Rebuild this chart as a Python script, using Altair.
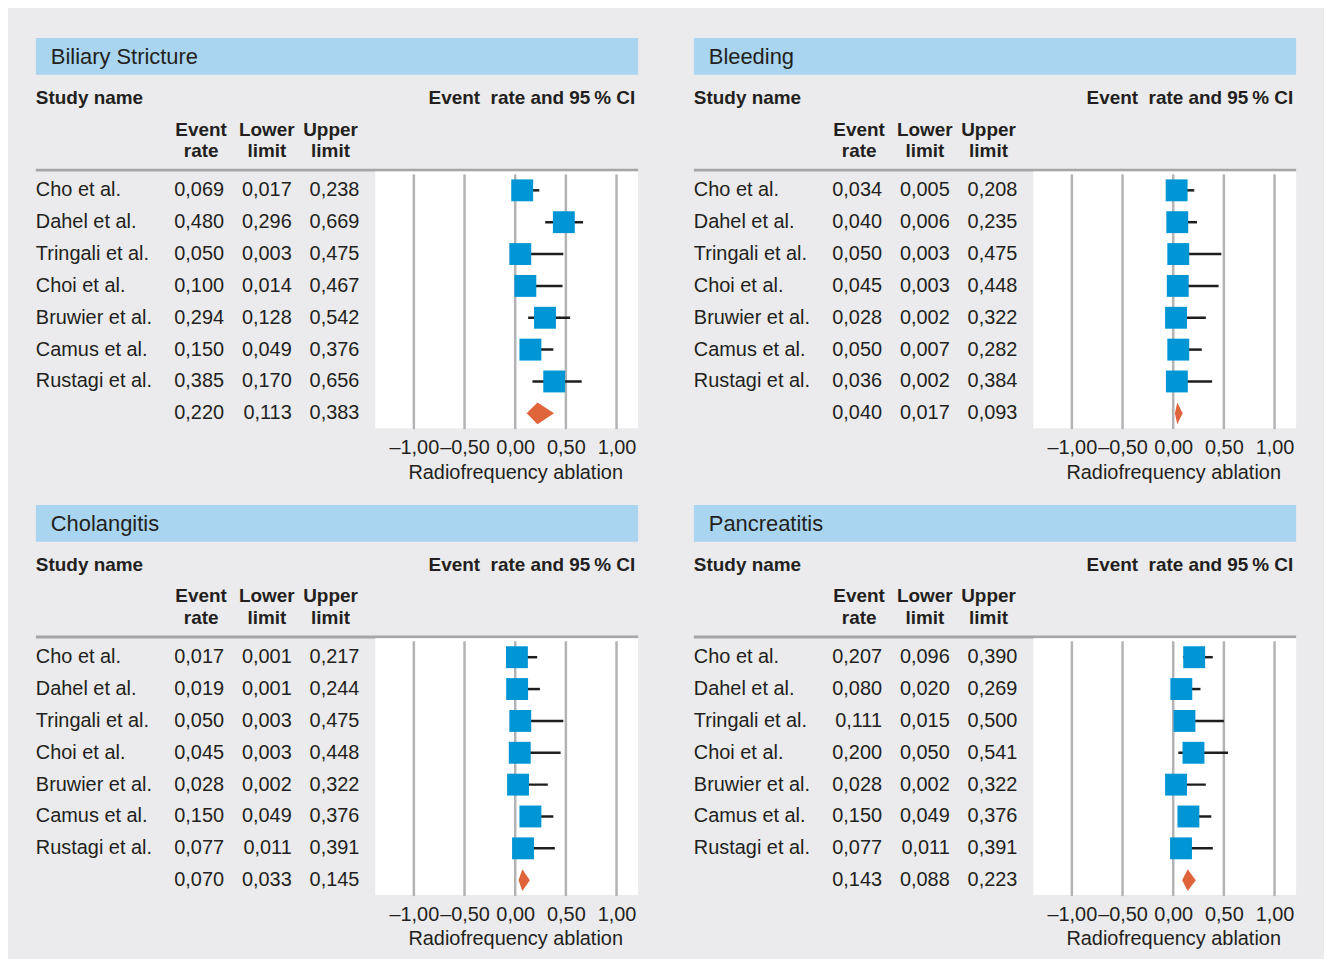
import altair as alt
import pandas as pd

FONT = "Liberation Sans, Arial, sans-serif"
TXT = "#231f20"
BLUE = "#0096d6"
ORANGE = "#e0643a"
BAR = "#a9d5f0"
GRID = "#b3b3b6"
BG = "#ebebed"

studies = ["Cho et al.", "Dahel et al.", "Tringali et al.", "Choi et al.",
           "Bruwier et al.", "Camus et al.", "Rustagi et al."]

titles = ["Biliary Stricture", "Bleeding", "Cholangitis", "Pancreatitis"]

# event rate, lower limit, upper limit per study; last entry = pooled estimate
biliary_ev = [0.069, 0.480, 0.050, 0.100, 0.294, 0.150, 0.385, 0.220]
biliary_lo = [0.017, 0.296, 0.003, 0.014, 0.128, 0.049, 0.170, 0.113]
biliary_hi = [0.238, 0.669, 0.475, 0.467, 0.542, 0.376, 0.656, 0.383]

bleeding_ev = [0.034, 0.040, 0.050, 0.045, 0.028, 0.050, 0.036, 0.040]
bleeding_lo = [0.005, 0.006, 0.003, 0.003, 0.002, 0.007, 0.002, 0.017]
bleeding_hi = [0.208, 0.235, 0.475, 0.448, 0.322, 0.282, 0.384, 0.093]

cholangitis_ev = [0.017, 0.019, 0.050, 0.045, 0.028, 0.150, 0.077, 0.070]
cholangitis_lo = [0.001, 0.001, 0.003, 0.003, 0.002, 0.049, 0.011, 0.033]
cholangitis_hi = [0.217, 0.244, 0.475, 0.448, 0.322, 0.376, 0.391, 0.145]

pancreatitis_ev = [0.207, 0.080, 0.111, 0.200, 0.028, 0.150, 0.077, 0.143]
pancreatitis_lo = [0.096, 0.020, 0.015, 0.050, 0.002, 0.049, 0.011, 0.088]
pancreatitis_hi = [0.390, 0.269, 0.500, 0.541, 0.322, 0.376, 0.391, 0.223]

tick_values = [-1.0, -0.5, 0.0, 0.5, 1.0]
x_title = "Radiofrequency ablation"

W, H = 605, 392
xscale = alt.Scale(domain=[-4.730, 1.213], nice=False, zero=False)
yscale = alt.Scale(domain=[-4.78125, 7.46875], reverse=True, nice=False, zero=False)
xaxis = alt.Axis(values=tick_values, grid=False, domain=False, ticks=False, tickSize=0,
                 labelExpr="replace(replace(replace(format(datum.value, '.2f'), '.', ','), '\u2212', '\u2013'), '-', '\u2013')",
                 labelFont=FONT, labelFontSize=20, labelColor=TXT, labelPadding=9,
                 labelBaseline="top", labelFlush=False, labelOverlap=False,
                 titleFont=FONT, titleFontSize=20, titleFontWeight="normal", titleColor=TXT,
                 titleX=481.5, titleY=50, titleAlign="center", titleBaseline="alphabetic")


def fmt(v):
    return f"{v:.3f}".replace(".", ",")


def X(field):
    return alt.X(field, type="quantitative", scale=xscale, axis=xaxis, title=x_title)


def Y(field):
    return alt.Y(field, type="quantitative", scale=yscale, axis=None)


def panel(title, ev, lo, hi):
    n = len(studies)
    rows = pd.DataFrame({
        "name": studies + [""],
        "r": list(range(n + 1)),
        "ev": ev, "lo": lo, "hi": hi,
        "ev_s": [fmt(v) for v in ev],
        "lo_s": [fmt(v) for v in lo],
        "hi_s": [fmt(v) for v in hi],
    })
    st = rows.iloc[:n]
    pooled_r = n
    h = 0.34
    dia = pd.DataFrame({
        "x": [lo[n], ev[n], hi[n]],
        "y": [pooled_r, pooled_r - h, pooled_r],
        "y2": [pooled_r, pooled_r + h, pooled_r],
    })
    one = pd.DataFrame({"a": [0]})

    bar = alt.Chart(one).mark_rect(color=BAR).encode(
        x=alt.value(0), x2=alt.value(W), y=alt.value(0), y2=alt.value(37))
    ttl = alt.Chart(pd.DataFrame({"t": [title], "r": [-4.1875]})).mark_text(
        align="left", baseline="middle", font=FONT, fontSize=22, color=TXT
    ).encode(x=alt.value(15), y=Y("r"), text="t:N")

    head_left = alt.Chart(pd.DataFrame({"t": ["Study name"], "r": [-2.906]})).mark_text(
        align="left", baseline="middle", font=FONT, fontSize=19, fontWeight="bold", color=TXT
    ).encode(x=alt.value(0), y=Y("r"), text="t:N")
    head_right = alt.Chart(pd.DataFrame({"t": ["Event\u00a0 rate and 95\u2009% CI"], "r": [-2.906]})).mark_text(
        align="right", baseline="middle", font=FONT, fontSize=19, fontWeight="bold", color=TXT
    ).encode(x=alt.value(602), y=Y("r"), text="t:N")
    col_heads = pd.DataFrame({
        "t": ["Event", "rate", "Lower", "limit", "Upper", "limit"],
        "px": [166, 166, 232, 232, 296, 296],
        "r": [-1.906, -1.219] * 3,
    })
    heads = alt.Chart(col_heads).mark_text(
        align="center", baseline="middle", font=FONT, fontSize=19, fontWeight="bold", color=TXT
    ).encode(x=alt.X("px:Q", scale=None), y=Y("r"), text="t:N")

    sep = alt.Chart(one).mark_rule(color="#a6a6a8", strokeWidth=3).encode(
        x=alt.value(0), x2=alt.value(W), y=alt.value(132.7))
    white = alt.Chart(one).mark_rect(color="white").encode(
        x=alt.value(341), x2=alt.value(W), y=alt.value(134), y2=alt.value(H))

    grid = alt.Chart(pd.DataFrame({"v": tick_values, "a": [-0.5] * 5, "b": [7.5] * 5})).mark_rule(
        color=GRID, strokeWidth=2.5).encode(x=X("v"), y=Y("a"), y2="b:Q")

    base_txt = dict(baseline="middle", font=FONT, fontSize=20, color=TXT)
    names = alt.Chart(rows).mark_text(align="left", **base_txt).encode(
        x=alt.value(0), y=Y("r"), text="name:N")
    t_ev = alt.Chart(rows).mark_text(align="right", **base_txt).encode(
        x=alt.value(189), y=Y("r"), text="ev_s:N")
    t_lo = alt.Chart(rows).mark_text(align="right", **base_txt).encode(
        x=alt.value(257), y=Y("r"), text="lo_s:N")
    t_hi = alt.Chart(rows).mark_text(align="right", **base_txt).encode(
        x=alt.value(325), y=Y("r"), text="hi_s:N")

    ci = alt.Chart(st).mark_rule(color="#1e1e1e", strokeWidth=2.5).encode(
        x=X("lo"), x2="hi:Q", y=Y("r"))
    sq = alt.Chart(st).mark_square(size=484, color=BLUE, opacity=1).encode(
        x=X("ev"), y=Y("r"))
    diamond = alt.Chart(dia).mark_area(color=ORANGE, orient="vertical", opacity=1).encode(
        x=X("x"), y=Y("y"), y2="y2:Q")

    return alt.layer(bar, ttl, head_left, head_right, heads, sep, white, grid,
                     names, t_ev, t_lo, t_hi, ci, sq, diamond).properties(width=W, height=H)


p1 = panel(titles[0], biliary_ev, biliary_lo, biliary_hi)
p2 = panel(titles[1], bleeding_ev, bleeding_lo, bleeding_hi)
p3 = panel(titles[2], cholangitis_ev, cholangitis_lo, cholangitis_hi)
p4 = panel(titles[3], pancreatitis_ev, pancreatitis_lo, pancreatitis_hi)

top = alt.hconcat(p1, p2, spacing=52)
bottom = alt.hconcat(p3, p4, spacing=52)
chart = alt.vconcat(top, bottom, spacing=23).properties(
    padding={"left": 26, "top": 28, "right": 26, "bottom": 8},
    background=BG,
).configure_view(stroke=None)

chart.save("out.html", embed_options={"renderer": "svg", "actions": False})
